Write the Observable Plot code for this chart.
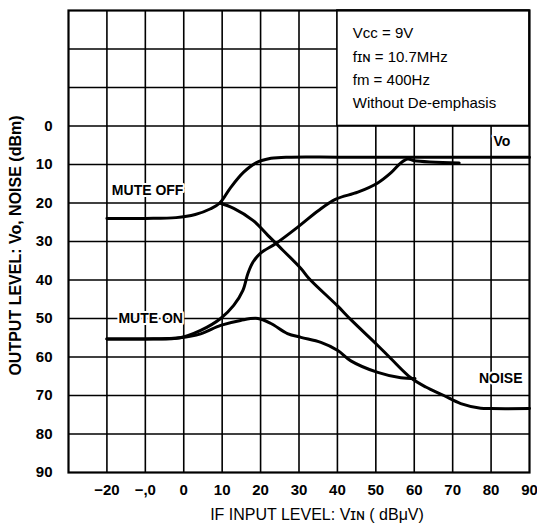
<!DOCTYPE html>
<html><head><meta charset="utf-8">
<script src="https://cdn.jsdelivr.net/npm/d3@7"></script>
<script src="https://cdn.jsdelivr.net/npm/@observablehq/plot@0.6"></script>
<style>body{margin:0;background:#fff}</style>
</head><body><div id="chart"></div>
<script>
// Tick values and labels
const xTickValues = [-20, -10, 0, 10, 20, 30, 40, 50, 60, 70, 80, 90];
const xTickLabels = ["−20", "−,0", "0", "10", "20", "30", "40", "50", "60", "70", "80", "90"];
const yTickValues = [0, 10, 20, 30, 40, 50, 60, 70, 80, 90];
const yTickLabels = ["0", "10", "20", "30", "40", "50", "60", "70", "80", "90"];
const gridValues = [-20, -10, 0, 10, 20, 30, 40, 50, 60, 70, 80];

// Vo, MUTE OFF
const voOffX = [-20, -10, -2, 3, 7, 9.4, 12.2, 15.6, 18.8, 22.7, 28, 40, 60, 90];
const voOffY = [24, 24, 23.8, 23, 21.5, 20, 16, 12, 9.6, 8.4, 8.1, 8.1, 8.1, 8.1];
// Vo, MUTE ON
const voOnX = [-20, -10, -1, 4.4, 9.6, 13, 15.4, 16.7, 18, 20, 24, 30, 35, 39.6, 45.3, 50.5, 53.9, 56.5, 58.3, 60, 71.7];
const voOnY = [55.3, 55.3, 55, 53.1, 50, 46.6, 42.7, 38.3, 35.4, 33, 30.5, 26, 22, 19, 17.2, 14.8, 12.2, 9.6, 8.6, 9, 9.6];
// NOISE, MUTE OFF
const noiseOffX = [9.4, 13, 18, 21.9, 24, 30.5, 32.6, 40.1, 43.5, 50.5, 53.9, 59.1, 63, 67.7, 72.1, 77.3, 80, 90];
const noiseOffY = [20, 21.4, 24.5, 28.4, 30.5, 37, 39.6, 46.8, 50.3, 57, 60.4, 65.4, 67.8, 70, 72.1, 73.3, 73.4, 73.4];
// NOISE, MUTE ON
const noiseOnX = [-20, -10, -1, 4.4, 9.6, 14.8, 19.3, 22.7, 27, 30.5, 35.7, 40.1, 43.5, 50.5, 56.5, 60.2];
const noiseOnY = [55.3, 55.3, 55, 54, 51.8, 50.5, 50, 51.3, 53.9, 54.9, 56.2, 58.3, 61, 64, 65.4, 65.6];

const conditions = ["Vcc = 9V", "fɪɴ = 10.7MHz", "fm = 400Hz", "Without De-emphasis"];
const conditionY = [-24.2, -18, -12, -5.8];

const series = [
  {name: "voOff", xs: voOffX, ys: voOffY},
  {name: "voOn", xs: voOnX, ys: voOnY},
  {name: "noiseOff", xs: noiseOffX, ys: noiseOffY},
  {name: "noiseOn", xs: noiseOnX, ys: noiseOnY}
];
const lineData = series.flatMap(s => s.xs.map((x, i) => ({s: s.name, x, y: s.ys[i]})));

const labels = [
  {t: "MUTE OFF", x: -9.4, y: 16.8},
  {t: "MUTE ON", x: -8.6, y: 50},
  {t: "NOISE", x: 82.5, y: 65.6},
  {t: "Vo", x: 82.8, y: 4.0}
];

const font = "'Liberation Sans Narrow', 'Liberation Sans', Arial, sans-serif";

const chart = Plot.plot({
  width: 537,
  height: 529,
  marginLeft: 68,
  marginRight: 8,
  marginTop: 10,
  marginBottom: 57,
  x: {domain: [-30, 90]},
  y: {domain: [-30, 90], reverse: true},
  style: {fontFamily: font, background: "white", color: "black"},
  marks: [
    Plot.ruleX(gridValues, {stroke: "black", strokeWidth: 1.6}),
    Plot.ruleY(gridValues, {stroke: "black", strokeWidth: 1.6}),
    Plot.rect([{x1: 40, x2: 90, y1: -30, y2: 0}], {x1: "x1", x2: "x2", y1: "y1", y2: "y2", fill: "white", stroke: "black", strokeWidth: 1.6}),
    Plot.text(conditions, {x: 44, y: (d, i) => conditionY[i], text: d => d, textAnchor: "start", fontSize: 15, letterSpacing: "-0.3px"}),
    Plot.line(lineData, {x: "x", y: "y", z: "s", stroke: "black", strokeWidth: 3, curve: "catmull-rom"}),
    Plot.text(labels, {x: "x", y: "y", text: "t", fontSize: 14, fontWeight: "bold", stroke: "white", strokeWidth: 4, fill: "black"}),
    Plot.frame({stroke: "black", strokeWidth: 2.2}),
    Plot.axisX({ticks: xTickValues, tickFormat: d => xTickLabels[xTickValues.indexOf(d)], tickSize: 0, tickPadding: 12, label: null, fontSize: 15, fontWeight: "bold"}),
    Plot.axisY({ticks: yTickValues, tickFormat: d => yTickLabels[yTickValues.indexOf(d)], tickSize: 0, tickPadding: 16, label: null, fontSize: 15, fontWeight: "bold"}),
    Plot.text(["OUTPUT LEVEL: Vo, NOISE (dBm)"], {frameAnchor: "left", textAnchor: "middle", dx: -53, dy: 4, rotate: -90, fontSize: 16, fontWeight: "bold", letterSpacing: "0.9px"}),
    Plot.text(["IF INPUT LEVEL: Vɪɴ ( dBμV)"], {frameAnchor: "bottom", textAnchor: "middle", dx: 18, dy: 47, fontSize: 16, letterSpacing: "2.2px"})
  ]
});
document.getElementById("chart").append(chart);
</script></body></html>
